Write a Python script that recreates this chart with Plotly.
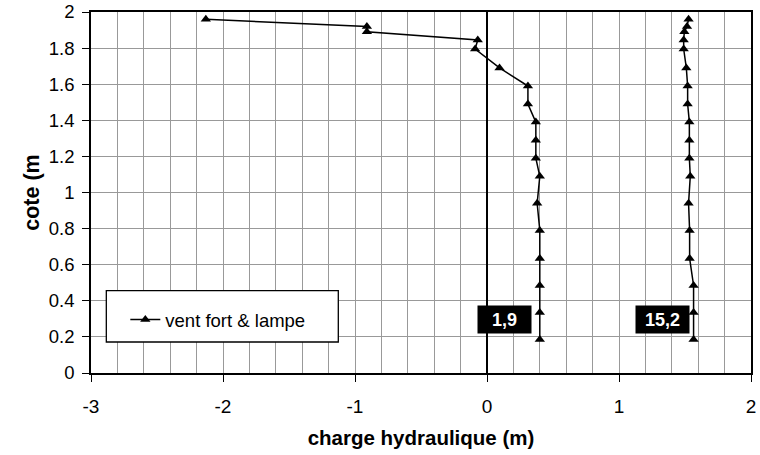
import plotly.graph_objects as go

# Elevation of each measuring point (m), bottom to top
cote = [0.185, 0.335, 0.485, 0.635, 0.79, 0.94, 1.09, 1.19, 1.29, 1.39,
        1.49, 1.59, 1.69, 1.795, 1.845, 1.89, 1.92, 1.96]

# Hydraulic head profiles (m)
charge_1 = [0.40, 0.40, 0.40, 0.40, 0.40, 0.38, 0.40, 0.37, 0.37, 0.37,
            0.31, 0.31, 0.095, -0.09, -0.07, -0.91, -0.91, -2.13]
charge_2 = [1.565, 1.565, 1.565, 1.535, 1.535, 1.527, 1.54, 1.533, 1.533, 1.533,
            1.52, 1.52, 1.51, 1.49, 1.49, 1.495, 1.515, 1.527]

serie_nom = "vent fort & lampe"
etiquettes = ["1,9", "15,2"]
etiq_x = [0.135, 1.332]
etiq_y = [0.296, 0.296]

x_ticks = [-3, -2, -1, 0, 1, 2]
x_ticktext = ["-3", "-2", "-1", "0", "1", "2"]

FONT = "Liberation Sans, Arial, sans-serif"
GRID = "#999999"

fig = go.Figure()
fig.add_trace(go.Scatter(
    x=charge_1, y=cote, name=serie_nom, legendgroup="a",
    mode="lines+markers",
    line=dict(color="black", width=1.5),
    marker=dict(symbol="triangle-up", size=9, color="black"),
))
fig.add_trace(go.Scatter(
    x=charge_2, y=cote, name=serie_nom, legendgroup="a", showlegend=False,
    mode="lines+markers",
    line=dict(color="black", width=1.5),
    marker=dict(symbol="triangle-up", size=9, color="black"),
))

for t, xv, yv in zip(etiquettes, etiq_x, etiq_y):
    fig.add_annotation(
        x=xv, y=yv, xref="x", yref="y", text="<b>%s</b>" % t, showarrow=False,
        font=dict(family=FONT, size=18, color="white"),
        bgcolor="black", width=51, height=25, borderpad=1,
    )

# legend frame
fig.add_shape(type="rect", xref="paper", yref="paper",
              x0=0.0232, x1=0.3747, y0=0.0859, y1=0.2282,
              line=dict(color="black", width=1.3), fillcolor="white", layer="above")

fig.update_layout(
    width=760, height=455,
    margin=dict(l=91, r=9, t=12, b=82, autoexpand=False),
    paper_bgcolor="white", plot_bgcolor="white",
    font=dict(family=FONT, size=19, color="black"),
    showlegend=True,
    legend=dict(x=0.052, y=0.147, xanchor="left", yanchor="middle",
                bgcolor="rgba(0,0,0,0)", borderwidth=0,
                font=dict(family=FONT, size=18.5, color="black")),
    xaxis=dict(
        range=[-3, 2], tickvals=x_ticks, ticktext=x_ticktext,
        automargin=False,
        showgrid=True, gridcolor=GRID, gridwidth=1.2,
        minor=dict(dtick=0.2, tick0=-3, showgrid=True, gridcolor=GRID, gridwidth=1.2),
        zeroline=True, zerolinecolor="black", zerolinewidth=1.5,
        showline=True, linecolor="black", linewidth=1.5, mirror=True,
        ticks="outside", ticklen=7, tickcolor="black", tickwidth=1.3,
        ticklabelstandoff=8,
        tickfont=dict(size=19),
        title=dict(text="<b>charge hydraulique (m)</b>", font=dict(size=20.5)),
    ),
    yaxis=dict(
        range=[0, 2], dtick=0.2, tick0=0, tickformat="~g",
        automargin=False,
        showgrid=True, gridcolor=GRID, gridwidth=1.2,
        zeroline=False,
        showline=True, linecolor="black", linewidth=1.5, mirror=True,
        ticks="outside", ticklen=7, tickcolor="black", tickwidth=1.3,
        ticklabelstandoff=4,
        tickfont=dict(size=18.5),
        title=dict(text="<b>cote (m</b>", font=dict(size=21.5), standoff=3),
    ),
    yaxis2=dict(
        overlaying="y", anchor="free", position=0.6, side="left",
        range=[0, 2], dtick=0.2, tick0=0, automargin=False,
        showgrid=False, zeroline=False, showline=False,
        showticklabels=False,
        ticks="outside", ticklen=6, tickcolor="black", tickwidth=1.3,
    ),
)

fig.write_html("out.html")
